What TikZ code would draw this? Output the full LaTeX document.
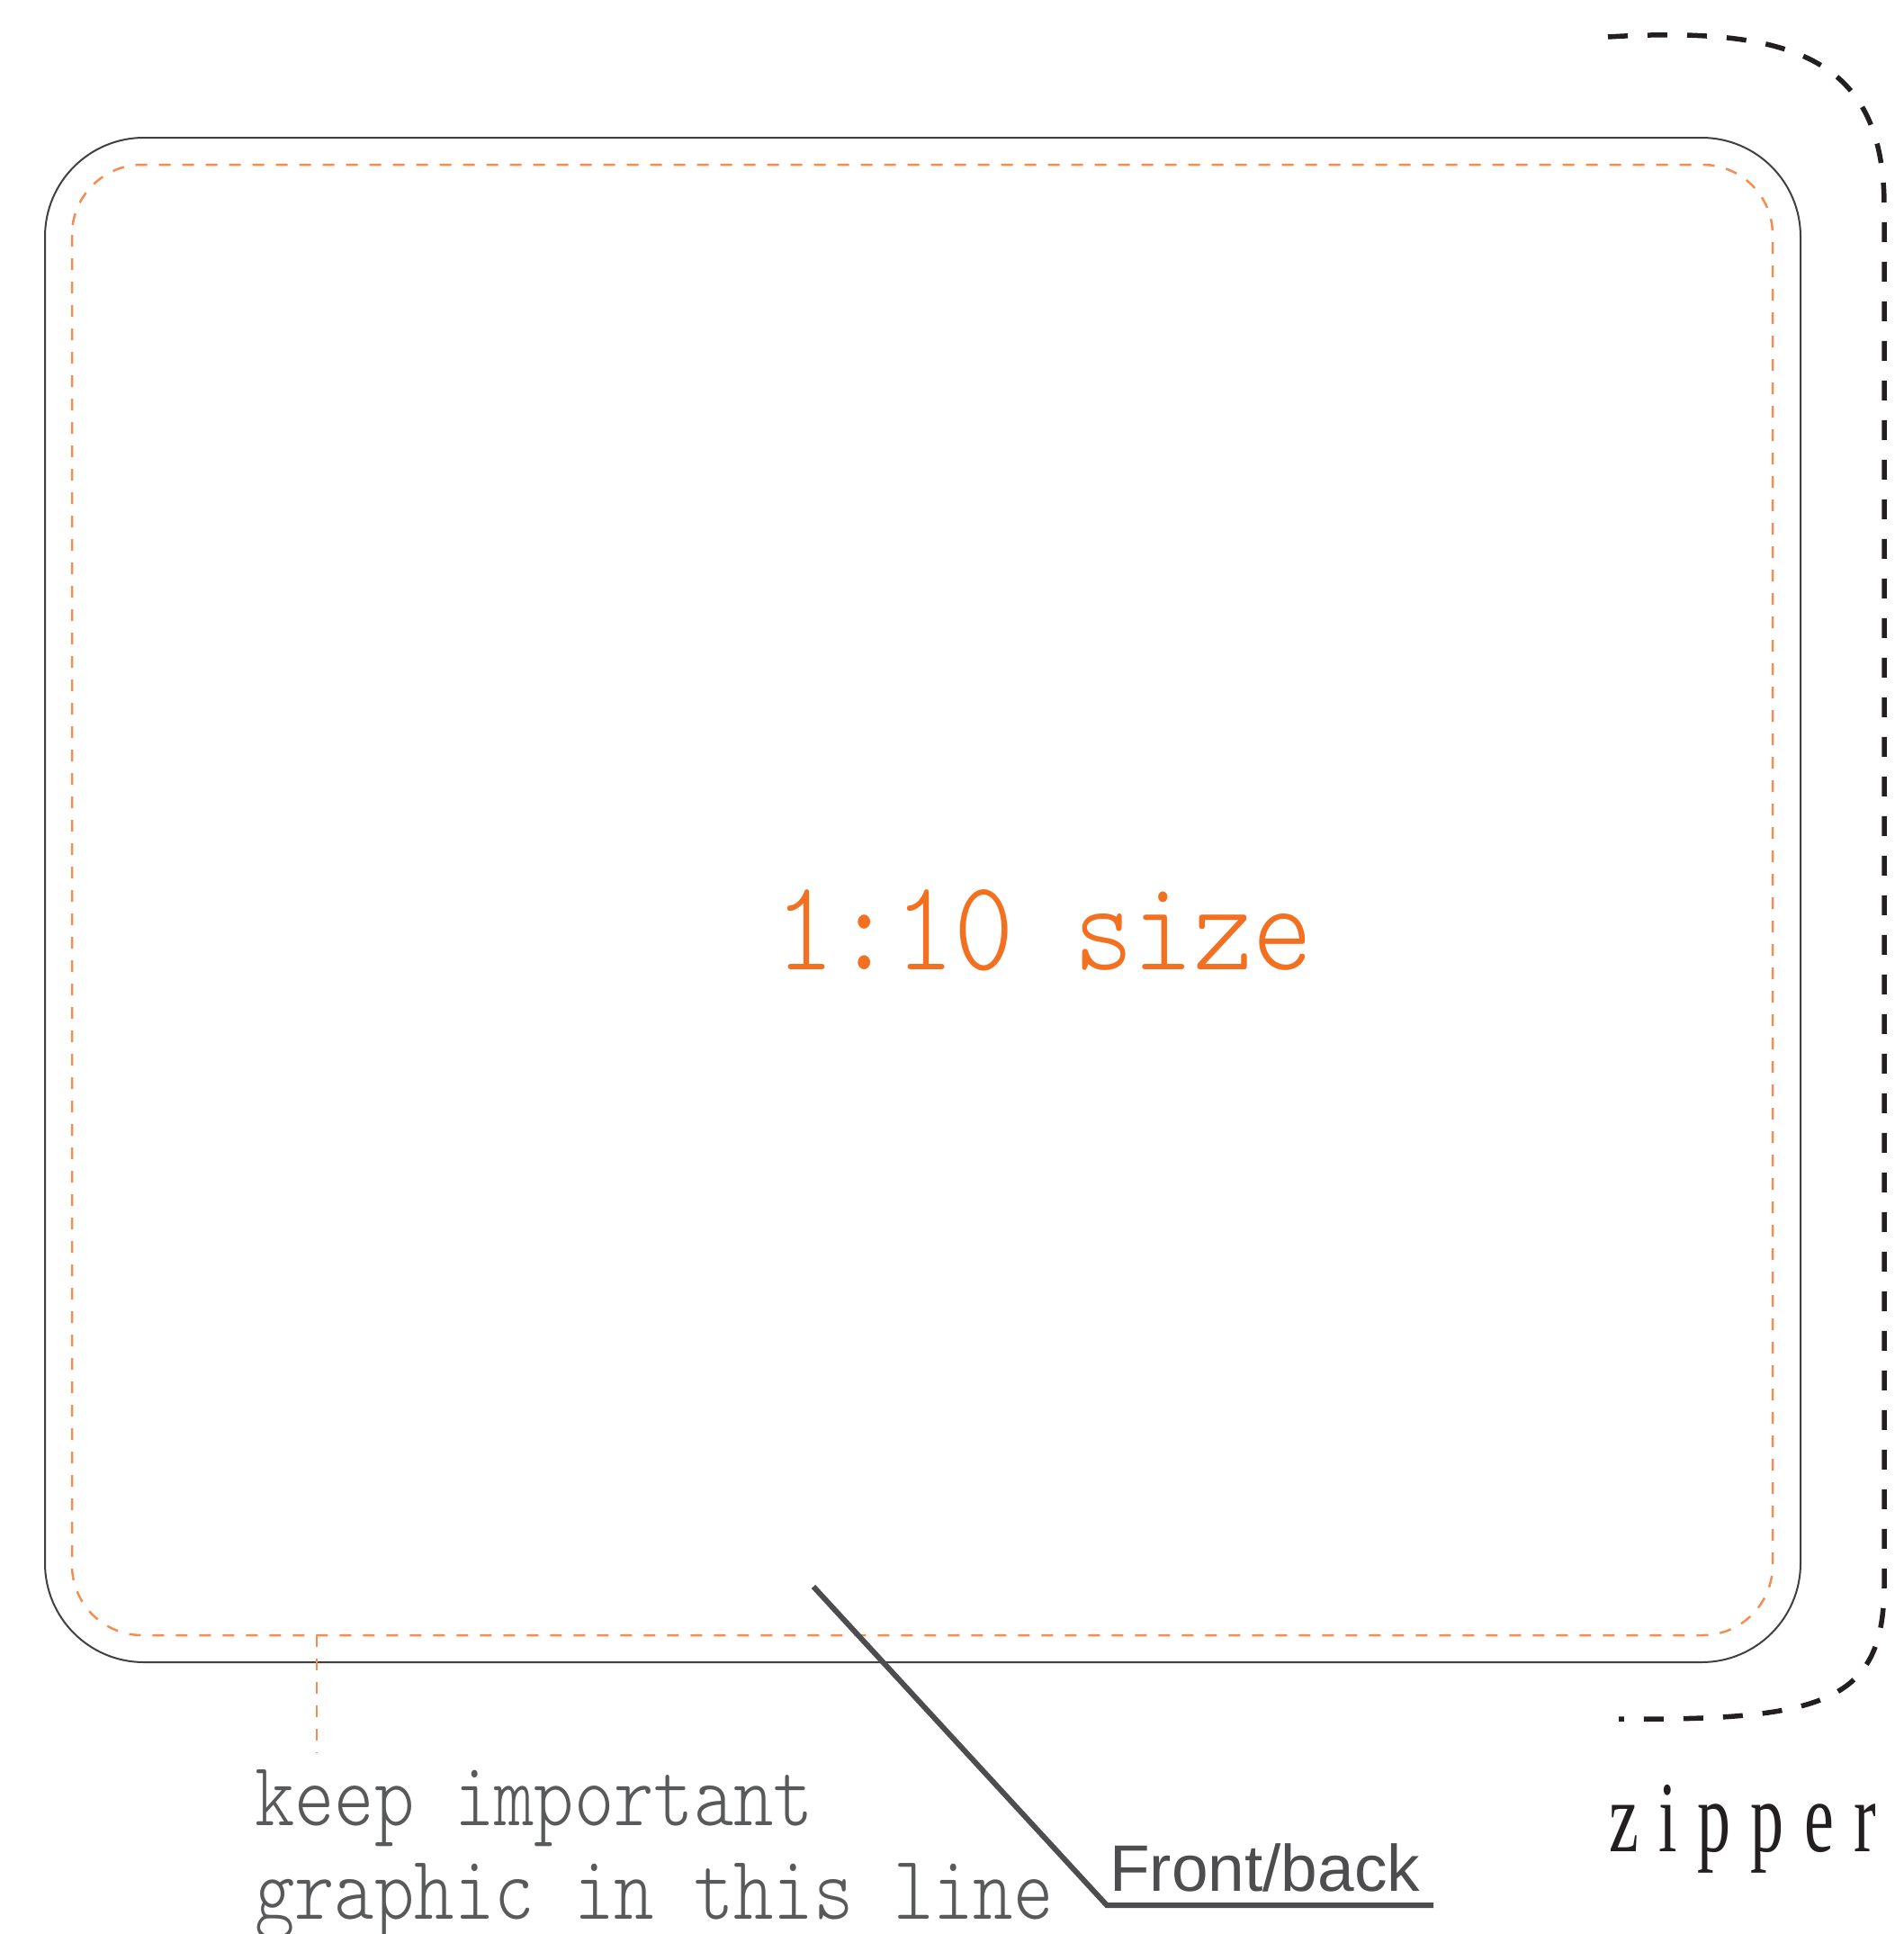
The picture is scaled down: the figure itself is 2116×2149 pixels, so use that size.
\documentclass[tikz,border=0pt]{standalone}
\usepackage{fontspec}
\usepackage{graphicx}
\newfontfamily\frontfont{Liberation Sans}
\newfontfamily\zipfont{Liberation Serif}
\newfontfamily\lightmono{lmmonolt10-regular}[Extension=.otf]
\definecolor{outlinegray}{RGB}{64,64,65}
\definecolor{safeorange}{RGB}{245,140,80}
\definecolor{sizeorange}{RGB}{243,112,33}
\definecolor{labelgray}{RGB}{88,89,91}
\definecolor{leadergray}{RGB}{77,77,79}
\definecolor{zipblack}{RGB}{35,31,32}
\begin{document}
\begin{tikzpicture}[x=1pt,y=-1pt,
  outline/.style={draw=outlinegray, line width=2pt},
  safeline/.style={draw=safeorange, line width=2.5pt, dash pattern=on 13pt off 13pt},
  leader/.style={draw=leadergray, line width=6pt},
  zipline/.style={draw=zipblack, line width=5.5pt, dash pattern=on 22pt off 22pt},
  monolabel/.style={inner sep=0pt, anchor=base west, text=labelgray},
  txt/.style={inner sep=0pt, anchor=base west}]
\useasboundingbox (0,0) rectangle (2116,2149);
% outer outline
\draw[outline, rounded corners=110pt] (50,153) rectangle (2001,1847);
% inner safe line
\draw[safeline, rounded corners=78pt] (80,183) rectangle (1970,1817);
% leader from safe line to label
\coordinate (safept) at (352,1817);
\coordinate (safeend) at (352,1948);
\draw[safeline] (safept) -- (safeend);
% centre label
\node[txt, text=sizeorange] (sizelbl) at (861,1077)
  {\scalebox{1}[1.13]{\fontsize{126.5}{130}\selectfont\lightmono 1:10 size}};
% keep text
\node[monolabel] (keep1) at (283,2028)
  {\scalebox{1}[1.2]{\fontsize{84.5}{90}\selectfont\lightmono keep important}};
\node[monolabel] (keep2) at (283,2132)
  {\scalebox{1}[1.2]{\fontsize{84.5}{90}\selectfont\lightmono graphic in this line}};
% front/back leader
\coordinate (lstart) at (904,1763);
\coordinate (lknee) at (1230,2117);
\coordinate (lend) at (1593,2117);
\draw[leader] (lstart) -- (lknee) -- (lend);
\node[txt, text=leadergray] (frontlbl) at (1233,2101)
  {\fontsize{73}{80}\selectfont\frontfont Front/back};
% zipper
\coordinate (zs) at (1787,41);
\coordinate (ze) at (1799,1910);
\draw[zipline] (zs) .. controls (2000,28) and (2094,70) .. (2094,230)
  -- (2094,1760) .. controls (2094,1890) and (2030,1912) .. (ze);
\node[txt, text=zipblack] (ziplbl) at (1788,2057)
  {\scalebox{0.66}[1]{\fontsize{112}{120}\selectfont\zipfont z\hspace{34pt}i\hspace{34pt}p\hspace{34pt}p\hspace{34pt}e\hspace{34pt}r}};
\end{tikzpicture}
\end{document}
